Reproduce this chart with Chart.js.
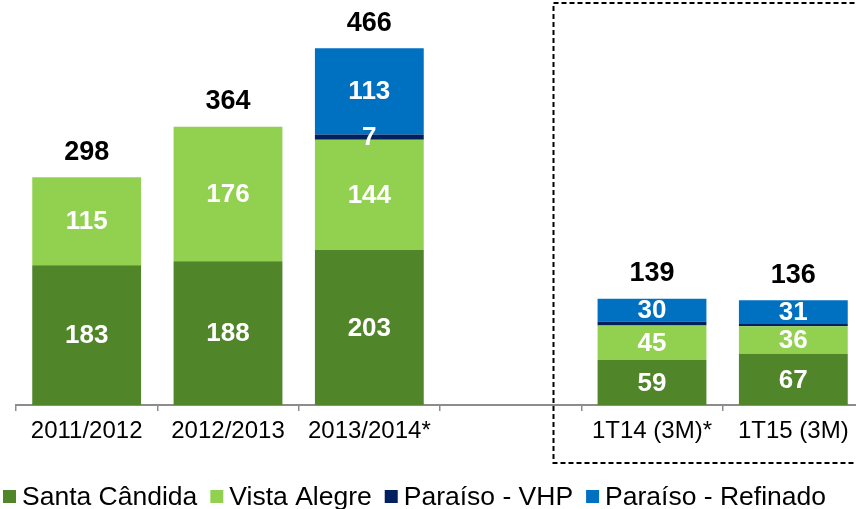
<!DOCTYPE html>
<html><head><meta charset="utf-8">
<script src="https://cdn.jsdelivr.net/npm/chart.js@4/dist/chart.umd.min.js"></script>
<style>
html,body{margin:0;padding:0;background:#fff;overflow:hidden;width:856px;height:509px}
#wrap{position:absolute;left:0;top:0;width:880px;height:509px}
</style></head><body>
<div id="wrap"><canvas id="c"></canvas></div>
<script>
const categories = ['2011/2012', '2012/2013', '2013/2014*', '', '1T14 (3M)*', '1T15 (3M)'];
const santaCandida = [183, 188, 203, null, 59, 67];
const vistaAlegre = [115, 176, 144, null, 45, 36];
const paraisoVHP = [null, null, 7, null, 5, 3];
const paraisoRefinado = [null, null, 113, null, 30, 31];
const totals = [298, 364, 466, null, 139, 136];
const seriesNames = ['Santa Cândida', 'Vista Alegre', 'Paraíso - VHP', 'Paraíso - Refinado'];
const seriesColors = ['#508529', '#92D050', '#002060', '#0070C0'];
const seriesValues = [santaCandida, vistaAlegre, paraisoVHP, paraisoRefinado];

const FONT = '"Liberation Sans", Arial, sans-serif';

const valueLabels = {
  id: 'valueLabels',
  afterDatasetsDraw(chart) {
    const ctx = chart.ctx;
    ctx.save();
    ctx.textAlign = 'center';
    ctx.textBaseline = 'middle';
    ctx.fillStyle = '#ffffff';
    ctx.font = 'bold 26px ' + FONT;
    chart.data.datasets.forEach((ds, di) => {
      const meta = chart.getDatasetMeta(di);
      meta.data.forEach((el, i) => {
        const v = ds.data[i];
        if (v == null || v < 6) return;
        ctx.fillText(String(v), el.x, (el.y + el.base) / 2 + 1);
      });
    });
    // totals
    ctx.fillStyle = '#000000';
    ctx.font = 'bold 27px ' + FONT;
    totals.forEach((t, i) => {
      if (t == null) return;
      let top = Infinity, x = 0;
      chart.data.datasets.forEach((ds, di) => {
        if (ds.data[i] == null) return;
        const el = chart.getDatasetMeta(di).data[i];
        if (el.y < top) { top = el.y; x = el.x; }
      });
      ctx.fillText(String(t), x, top - 25);
    });
    ctx.restore();
  }
};

const decorations = {
  id: 'decorations',
  afterDraw(chart) {
    const ctx = chart.ctx;
    const xs = chart.scales.x;
    ctx.save();
    // dashed box
    const p3 = xs.getPixelForValue(3), p4 = xs.getPixelForValue(4);
    const x0 = Math.round(p3 + 0.3 * (p4 - p3)) + 0.5;
    ctx.strokeStyle = '#000';
    ctx.lineWidth = 2;
    ctx.setLineDash([5, 3]);
    ctx.strokeRect(x0, 3, 400, 460);
    ctx.setLineDash([]);
    // legend
    ctx.font = '26.5px ' + FONT;
    ctx.textAlign = 'left';
    ctx.textBaseline = 'alphabetic';
    let x = 3;
    seriesNames.forEach((name, i) => {
      ctx.fillStyle = seriesColors[i];
      ctx.fillRect(x, 490, 13, 13);
      ctx.fillStyle = '#000';
      ctx.fillText(name, x + 19, 505);
      x += 19 + ctx.measureText(name).width + 13;
    });
    ctx.restore();
  }
};

new Chart(document.getElementById('c'), {
  type: 'bar',
  data: {
    labels: categories,
    datasets: seriesValues.map((vals, i) => ({
      label: seriesNames[i],
      data: vals,
      backgroundColor: seriesColors[i],
      borderWidth: 0,
      barPercentage: 0.77,
      categoryPercentage: 1
    }))
  },
  options: {
    responsive: true,
    maintainAspectRatio: false,
    animation: false,
    layout: { padding: { left: 16, right: 16, top: 0, bottom: 0 } },
    plugins: { legend: { display: false }, tooltip: { enabled: false } },
    scales: {
      x: {
        stacked: true,
        offset: true,
        grid: { display: true, drawOnChartArea: false, drawTicks: true, tickLength: 6, color: '#8c8c8c', lineWidth: 1.5, offset: true },
        border: { display: true, color: '#8c8c8c', width: 2 },
        ticks: { color: '#000', font: { family: FONT, size: 24 }, padding: 6, maxRotation: 0, autoSkip: false },
        afterFit(s) { s.height = 104; }
      },
      y: {
        stacked: true,
        display: false,
        min: 0,
        max: 530
      }
    }
  },
  plugins: [valueLabels, decorations]
});
</script>
</body></html>
